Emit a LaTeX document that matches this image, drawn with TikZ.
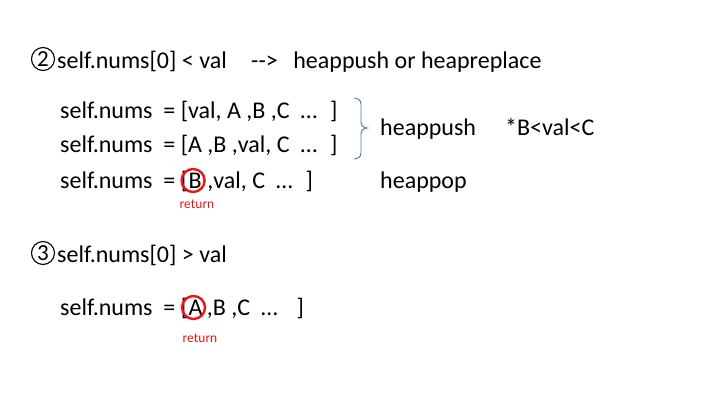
\documentclass[tikz,border=0pt]{standalone}
\usepackage{fontspec}
\setmainfont{Carlito}
\definecolor{retred}{RGB}{236,20,20}
\definecolor{braceblue}{RGB}{68,114,196}
\begin{document}
\begin{tikzpicture}[x=1pt,y=-1pt,
  txt/.style={anchor=base west,inner sep=0pt,font=\fontsize{24}{28}\selectfont},
  num/.style={circle,draw,line width=1.1pt,minimum size=23pt,inner sep=0pt,font=\fontsize{23}{28}\selectfont},
  hit/.style={circle,draw=retred,line width=2.4pt,minimum size=23pt,inner sep=0pt},
  retlabel/.style={anchor=base,inner sep=0pt,text=retred,font=\fontsize{13.5}{16}\selectfont}]
\useasboundingbox (0,0) rectangle (720,405);
% case 2: heading
\node[num] (c2) at (43,59) {2};
\node[txt] (h2) at (57,68) {self.nums[0] < val\hspace{24.5pt}{-}{-}>\hspace{15.5pt}heappush or heapreplace};
% case 2: list states
\node[txt] (l1) at (60,118) {self.nums\ \ = [val, A ,B ,C\ \ …\hspace{13pt}]};
\node[txt] (l2) at (60,152) {self.nums\ \ = [A ,B ,val, C\ \ …\hspace{13pt}]};
\node[txt] (l3a) at (60,188) {self.nums\ \ = [};
\node[txt] (l3b) at (l3a.base east) {B};
\node[txt] (l3c) at (l3b.base east) {\ ,val, C\ \ …\hspace{13pt}]};
\node[hit] (rb) at ([xshift=-2pt,yshift=7.5pt]l3b.base) {};
\node[retlabel] (r1) at (197,208) {return};
% brace joining the two push cases
\draw[braceblue,line width=0.9pt] (354,98) to[out=0,in=90] (361,104) -- (361,122)
  to[out=-90,in=180] (367,128) to[out=180,in=90] (361,134) -- (361,153)
  to[out=-90,in=0] (354,159);
\node[txt] (hp) at (380,135) {heappush};
\node[txt] (cond) at (505,135) {*B<val<C};
\node[txt] (pop) at (380,188) {heappop};
% case 3: heading
\node[num] (c3) at (43,253) {3};
\node[txt] (h3) at (57,262) {self.nums[0] > val};
% case 3: list state
\node[txt] (l4a) at (60,315) {self.nums\ \ = [};
\node[txt] (l4b) at (l4a.base east) {A};
\node[txt] (l4c) at (l4b.base east) {\,,B ,C\ \ …\hspace{19pt}]};
\node[hit] (ra) at ([xshift=-2pt,yshift=7.5pt]l4b.base) {};
\node[retlabel] (r2) at (200,342) {return};
\end{tikzpicture}
\end{document}
